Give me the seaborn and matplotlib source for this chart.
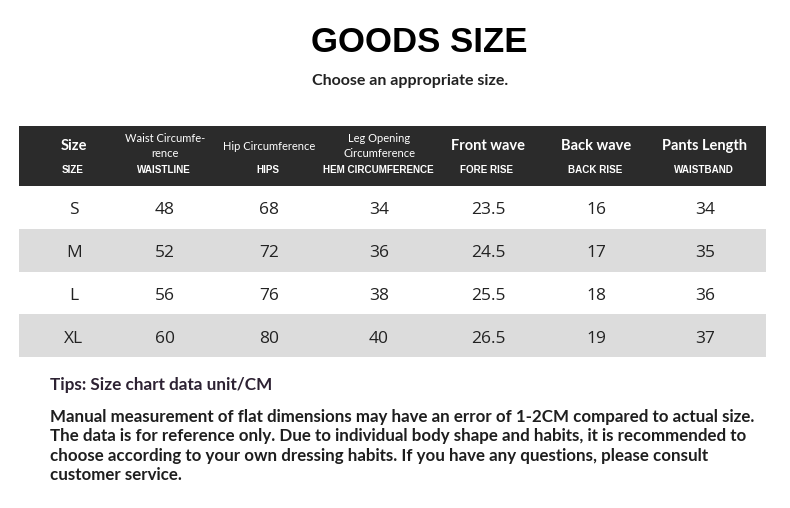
import matplotlib
matplotlib.use("Agg")
import matplotlib.pyplot as plt
import numpy as np
import pandas as pd
import seaborn as sns
from matplotlib.colors import ListedColormap

# table content
SIZES = ["S", "M", "L", "XL"]
HEAD_TITLES = ["Size", "Waist Circumfe-\nrence", "Hip Circumference",
               "Leg Opening\nCircumference", "Front wave", "Back wave", "Pants Length"]
HEAD_SUBS = ["SIZE", "WAISTLINE", "HIPS", "HEM CIRCUMFERENCE",
             "FORE RISE", "BACK RISE", "WAISTBAND"]
WAIST = ["48", "52", "56", "60"]
HIPS = ["68", "72", "76", "80"]
HEM = ["34", "36", "38", "40"]
FORE_RISE = ["23.5", "24.5", "25.5", "26.5"]
BACK_RISE = ["16", "17", "18", "19"]
PANTS_LEN = ["34", "35", "36", "37"]

TITLE = "GOODS SIZE"
SUBTITLE = "Choose an appropriate size."
TIPS = "Tips: Size chart data unit/CM"
NOTE = ("Manual measurement of flat dimensions may have an error of 1-2CM compared to actual size.\n"
        "The data is for reference only. Due to individual body shape and habits, it is recommended to\n"
        "choose according to your own dressing habits. If you have any questions, please consult\n"
        "customer service.")

# layout (pixels)
W, H = 790, 508
TABLE_L, TABLE_R = 19, 766
HEAD_T, HEAD_B = 126, 186
BODY_B = 357
COL_X = [74, 165, 269, 379, 488, 596, 705]
HEAD_DARK = "#2b2b2b"
STRIPE = "#dcdcdc"


def px_axes(fig, left, top, right, bottom):
    return fig.add_axes([left / W, 1 - bottom / H, (right - left) / W, (bottom - top) / H])


def main() -> None:
    sns.set_theme(style="white")
    fig = plt.figure(figsize=(W / 100, H / 100), dpi=100)
    fig.patch.set_facecolor("white")

    body = pd.DataFrame({
        "Size": SIZES, "Waist": WAIST, "Hips": HIPS, "Hem": HEM,
        "Fore": FORE_RISE, "Back": BACK_RISE, "Pants": PANTS_LEN,
    })
    stripes = np.array([[i % 2] * body.shape[1] for i in range(len(body))])

    # header band
    hax = px_axes(fig, TABLE_L, HEAD_T, TABLE_R, HEAD_B)
    sns.heatmap(np.zeros((1, 1)), cmap=ListedColormap([HEAD_DARK]), cbar=False, ax=hax)
    hax.axis("off")

    # striped body
    bax = px_axes(fig, TABLE_L, HEAD_B, TABLE_R, BODY_B)
    sns.heatmap(stripes, cmap=ListedColormap(["white", STRIPE]), vmin=0, vmax=1,
                cbar=False, ax=bax)
    bax.axis("off")

    # overlay for text in pixel coords
    ax = fig.add_axes([0, 0, 1, 1], facecolor="none")
    ax.set_xlim(0, W)
    ax.set_ylim(H, 0)
    ax.axis("off")

    ax.text(419, 42, TITLE, ha="center", va="center", fontsize=25,
            fontweight="bold", family="Liberation Sans", color="black")
    ax.text(410, 81, SUBTITLE, ha="center", va="center", fontsize=11.5,
            fontweight="bold", family="Lato", color="#222222")

    for i, (t, s) in enumerate(zip(HEAD_TITLES, HEAD_SUBS)):
        small = "\n" in t or len(t) > 14
        ax.text(COL_X[i], 146, t, ha="center", va="center", color="white",
                family="Lato", fontweight="bold" if not small else "normal",
                fontsize=8 if small else 10.5, linespacing=1.35)
        ax.text(COL_X[i] - 1, 170, s, ha="center", va="center", color="white",
                family="Liberation Sans", fontweight="bold", fontsize=7.1)

    row_h = (BODY_B - HEAD_B) / len(body)
    for r in range(len(body)):
        y = HEAD_B + row_h * (r + 0.5) + 3
        for c, col in enumerate(body.columns):
            ax.text(COL_X[c], y, body.iloc[r][col], ha="center", va="center",
                    family=["Open Sans", "Noto Sans", "DejaVu Sans"], fontsize=12.5,
                    color="#222222")

    ax.text(50, 385, TIPS, ha="left", va="center", family="Lato", fontweight="bold",
            fontsize=12.3, color="#2d2233")
    ax.text(50, 409, NOTE, ha="left", va="top", family="Lato", fontweight="bold",
            fontsize=12.2, color="#1e1e1e", linespacing=1.25)

    fig.savefig("out.png", dpi=100)
    plt.close(fig)


if __name__ == "__main__":
    main()
